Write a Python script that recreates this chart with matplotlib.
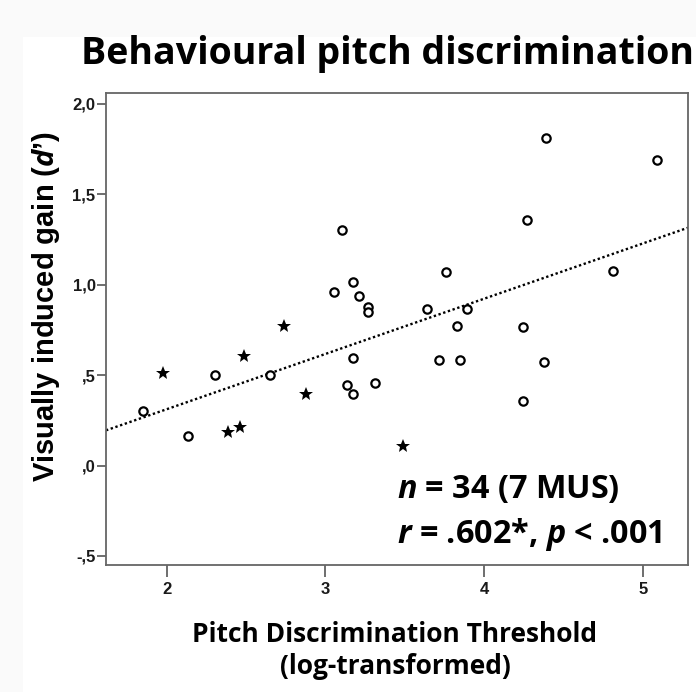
import numpy as np
import matplotlib
matplotlib.use("Agg")
import matplotlib.pyplot as plt
from matplotlib.patches import Rectangle

plt.rcParams["mathtext.fontset"] = "custom"
plt.rcParams["mathtext.it"] = "Open Sans:italic:bold"
plt.rcParams["mathtext.rm"] = "Open Sans:bold"

# non-musicians (circles)
nm_x = [3.103, 3.054, 3.176, 3.212, 3.270, 3.270, 4.390, 5.090, 4.270, 3.760,
        4.810, 3.642, 3.890, 3.830, 4.243, 1.853, 2.132, 2.304, 2.653, 3.176,
        3.138, 3.176, 3.313, 3.716, 3.846, 4.378, 4.247]
nm_y = [1.305, 0.959, 1.016, 0.940, 0.876, 0.850, 1.809, 1.687, 1.355, 1.069,
        1.075, 0.867, 0.867, 0.774, 0.767, 0.300, 0.162, 0.498, 0.498, 0.596,
        0.444, 0.393, 0.454, 0.586, 0.586, 0.571, 0.356]
# musicians (stars)
mus_x = [1.975, 2.489, 2.388, 2.462, 2.739, 2.878, 3.491]
mus_y = [0.513, 0.605, 0.186, 0.212, 0.774, 0.393, 0.107]

yticks = [-0.5, 0.0, 0.5, 1.0, 1.5, 2.0]
ytick_labels = ["-,5", ",0", ",5", "1,0", "1,5", "2,0"]
xticks = [2, 3, 4, 5]

fig = plt.figure(figsize=(6.96, 6.92), dpi=100)
fig.patch.set_facecolor("#fafafa")
fig.patches.append(Rectangle((23 / 696, 0), 1, 1 - 37 / 692, transform=fig.transFigure,
                             facecolor="white", edgecolor="none", zorder=-10))

ax = fig.add_axes([106 / 696, 127 / 692, 582 / 696, 472 / 692])

# linear fit over all participants
all_x = np.array(nm_x + mus_x)
all_y = np.array(nm_y + mus_y)
slope, icpt = np.polyfit(all_x, all_y, 1)

xmin, xmax = 1.617, 5.285
lx = np.array([xmin, xmax])
ax.plot(lx, icpt + slope * lx, color="black", lw=1.7, linestyle=(0, (1, 1.1)), zorder=2)

ax.plot(nm_x, nm_y, "o", ms=6, mfc="white", mec="black", mew=1.6, zorder=3)
ax.plot(mus_x, mus_y, "*", ms=10.5, color="black", mew=0, zorder=3)

ax.set_xlim(xmin, xmax)
ax.set_ylim(-0.55, 2.06)
tick_font = dict(fontfamily="Liberation Sans", fontweight="bold", fontsize=12, color="#1a1a1a")
ax.set_yticks(yticks)
ax.set_yticklabels(ytick_labels, **tick_font)
ax.set_xticks(xticks)
ax.set_xticklabels([str(t) for t in xticks], **tick_font)
ax.tick_params(axis="y", direction="out", length=6.5, width=1.2, pad=1, color="#555555")
ax.tick_params(axis="x", direction="out", length=8.5, width=1.2, pad=4, color="#555555")
for s in ax.spines.values():
    s.set_color("#666666")
    s.set_linewidth(1.3)

fig.text(387.5 / 696, 1 - 64 / 692, "Behavioural pitch discrimination", ha="center",
         va="baseline", fontfamily="Open Sans", fontweight="bold", fontsize=27)
fig.text(394 / 696, 1 - 641.7 / 692, "Pitch Discrimination Threshold", ha="center",
         va="baseline", fontfamily="Open Sans", fontweight="bold", fontsize=19)
fig.text(395.5 / 696, 1 - 674 / 692, "(log-transformed)", ha="center",
         va="baseline", fontfamily="Open Sans", fontweight="bold", fontsize=19)
fig.text(46 / 696, 1 - 306 / 692, "Visually induced gain ($\\mathit{d}$\u2019)", ha="center",
         va="center", rotation=90, fontfamily="Liberation Sans", fontweight="bold", fontsize=21)

fig.text(397 / 696, 1 - 498 / 692, "$\\mathit{n}$ = 34 (7 MUS)", ha="left",
         va="baseline", fontfamily="Open Sans", fontweight="bold", fontsize=23.3)
fig.text(397 / 696, 1 - 543 / 692, "$\\mathit{r}$ = .602*, $\\mathit{p}$ < .001", ha="left",
         va="baseline", fontfamily="Open Sans", fontweight="bold", fontsize=23.3)

fig.savefig("out.png", dpi=100, facecolor=fig.get_facecolor())
